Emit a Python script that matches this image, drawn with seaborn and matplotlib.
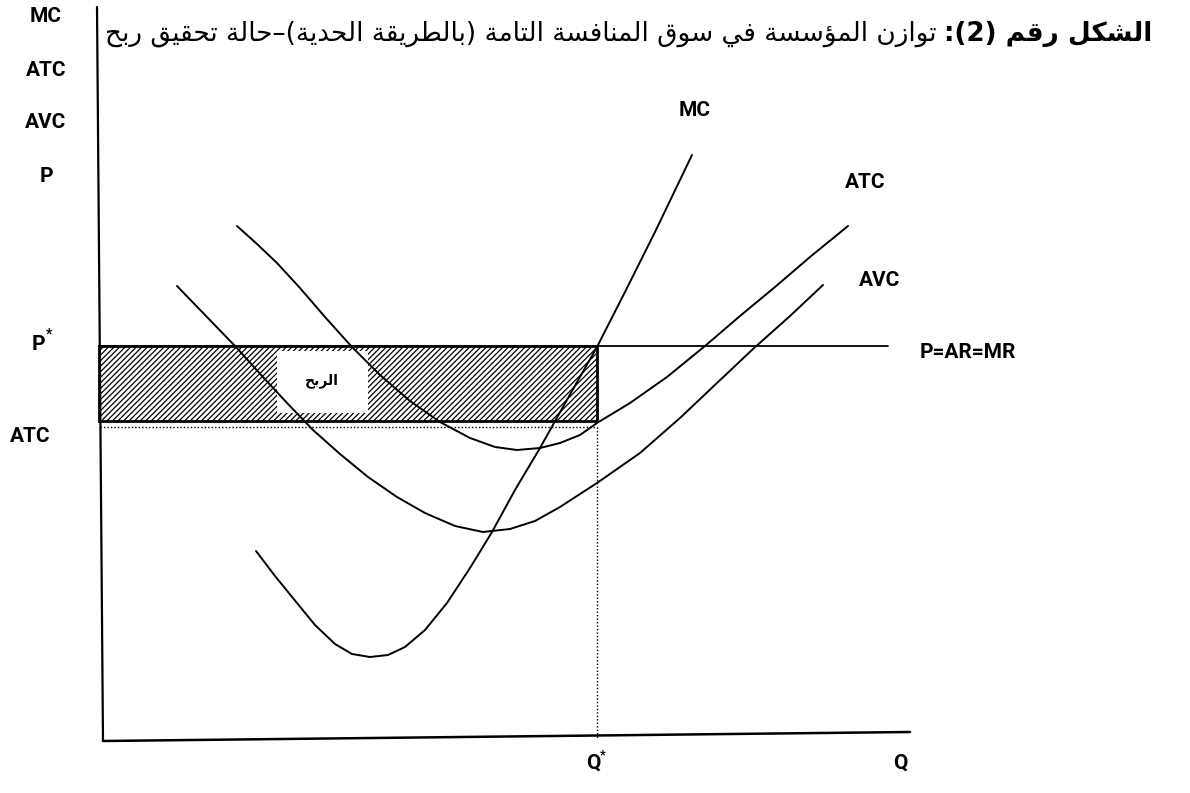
import matplotlib
matplotlib.use("Agg")
import matplotlib.pyplot as plt
from matplotlib.patches import Rectangle
import seaborn as sns

# ---------------- data (Q = quantity, C = cost / price, chart units) ----------------
mc_q = [153, 172, 194, 212, 232, 249, 267, 285, 302, 322, 344, 367, 389, 412, 437, 465, 494, 522, 552, 589]
mc_c = [189, 164, 137, 115, 96, 86, 83, 85, 93, 110, 137, 172, 208, 250, 292, 342, 393, 448, 508, 585]

atc_q = [134, 154, 174, 197, 222, 249, 277, 307, 337, 367, 392, 414, 437, 457, 477, 494, 527, 564, 602, 637, 672, 707, 745]
atc_c = [514, 496, 477, 452, 423, 393, 365, 339, 318, 302, 293, 290, 292, 297, 305, 317, 337, 363, 394, 424, 453, 483, 514]

avc_q = [74, 103, 133, 159, 185, 210, 237, 265, 294, 322, 352, 380, 407, 432, 457, 494, 537, 577, 614, 650, 687, 720]
avc_c = [454, 424, 393, 364, 336, 310, 286, 263, 243, 227, 214, 208, 211, 219, 233, 257, 287, 322, 357, 391, 424, 455]

p_star = 394          # market price P*
atc_at_qstar = 319    # ATC level at Q*
q_star = 494          # profit-maximising output
price_line_end = 785  # P=AR=MR line length

y_axis_labels = ["MC", "ATC", "AVC", "P"]
curve_labels = ["MC", "ATC", "AVC", "P=AR=MR"]
title_bold = "الشكل رقم (2):"
title_rest = "توازن المؤسسة في سوق المنافسة التامة (بالطريقة الحدية)–حالة تحقيق ربح"
profit_label = "الربح"

# ---------------- minimal Arabic shaping for matplotlib ----------------
FORMS = {
    'ا': ('\uFE8D', '\uFE8E', None, None),
    'ب': ('\uFE8F', '\uFE90', '\uFE91', '\uFE92'),
    'ة': ('\uFE93', '\uFE94', None, None),
    'ت': ('\uFE95', '\uFE96', '\uFE97', '\uFE98'),
    'ج': ('\uFE9D', '\uFE9E', '\uFE9F', '\uFEA0'),
    'ح': ('\uFEA1', '\uFEA2', '\uFEA3', '\uFEA4'),
    'د': ('\uFEA9', '\uFEAA', None, None),
    'ر': ('\uFEAD', '\uFEAE', None, None),
    'ز': ('\uFEAF', '\uFEB0', None, None),
    'س': ('\uFEB1', '\uFEB2', '\uFEB3', '\uFEB4'),
    'ش': ('\uFEB5', '\uFEB6', '\uFEB7', '\uFEB8'),
    'ط': ('\uFEC1', '\uFEC2', '\uFEC3', '\uFEC4'),
    'ف': ('\uFED1', '\uFED2', '\uFED3', '\uFED4'),
    'ق': ('\uFED5', '\uFED6', '\uFED7', '\uFED8'),
    'ك': ('\uFED9', '\uFEDA', '\uFEDB', '\uFEDC'),
    'ل': ('\uFEDD', '\uFEDE', '\uFEDF', '\uFEE0'),
    'م': ('\uFEE1', '\uFEE2', '\uFEE3', '\uFEE4'),
    'ن': ('\uFEE5', '\uFEE6', '\uFEE7', '\uFEE8'),
    'و': ('\uFEED', '\uFEEE', None, None),
    'ي': ('\uFEF1', '\uFEF2', '\uFEF3', '\uFEF4'),
    'ؤ': ('\uFE85', '\uFE86', None, None),
}
MIRROR = {'(': ')', ')': '('}


def shape_rtl(s):
    out = []
    for i, c in enumerate(s):
        if c not in FORMS:
            out.append(c)
            continue
        prev = s[i - 1] if i > 0 else ''
        nxt = s[i + 1] if i + 1 < len(s) else ''
        jp = prev in FORMS and FORMS[prev][2] is not None
        jn = FORMS[c][2] is not None and nxt in FORMS
        iso, fin, ini, med = FORMS[c]
        if jp and jn:
            out.append(med)
        elif jp:
            out.append(fin)
        elif jn:
            out.append(ini)
        else:
            out.append(iso)
    return ''.join(MIRROR.get(ch, ch) for ch in reversed(out))


# ---------------- figure ----------------
sns.set_theme(style="white")
plt.rcParams['font.family'] = ['Roboto', 'DejaVu Sans']
plt.rcParams['hatch.linewidth'] = 0.9
plt.rcParams['text.color'] = 'black'

fig = plt.figure(figsize=(11.9, 7.93), dpi=100)
ax = fig.add_axes([0, 0, 1, 1])
ax.set_xlim(-103, 1087)
ax.set_ylim(-53, 740)
ax.axis('off')

# profit rectangle (hatched)
ax.add_patch(Rectangle((-4, atc_at_qstar), q_star + 4, p_star - atc_at_qstar,
                       facecolor='white', edgecolor='black', hatch='//////',
                       linewidth=2.0, zorder=1))
ax.add_patch(Rectangle((174, 327), 91, 62, facecolor='white', edgecolor='none', zorder=2))
ax.text(219, 359, shape_rtl(profit_label), family=['DejaVu Sans'], fontweight='bold',
        fontsize=10, ha='center', va='center', color='black', zorder=5)

# axes lines
ax.plot([-6, 0], [733, -1], color='black', lw=1.6, zorder=3)
ax.plot([0, 807], [-1, 8], color='black', lw=1.8, zorder=3)

# price line and dotted guides
ax.plot([-4, price_line_end], [p_star, p_star], color='black', lw=1.3, zorder=3)
ax.plot([-3, q_star], [atc_at_qstar - 6, atc_at_qstar - 6], color='black', lw=1.0,
        linestyle=(0, (1, 1.5)), zorder=3)
ax.plot([q_star, q_star], [atc_at_qstar - 6, 2], color='black', lw=1.0,
        linestyle=(0, (1, 1.5)), zorder=3)

# cost curves
for q, c in ((mc_q, mc_c), (atc_q, atc_c), (avc_q, avc_c)):
    sns.lineplot(x=q, y=c, ax=ax, color='black', linewidth=1.4, sort=False,
                 estimator=None, zorder=4)

# labels
lab = dict(fontweight='bold', fontsize=15, ha='center', va='center', color='black')
for txt, c in zip(y_axis_labels, [724, 670, 618, 564]):
    ax.text(-57, c, txt, **lab)
ax.text(-65, 396, "P", **lab)
ax.text(-54, 405, "*", fontweight='bold', fontsize=10, ha='center', va='center')
ax.text(-73, 303, "ATC", **lab)
ax.text(592, 630, curve_labels[0], **lab)
ax.text(762, 557, curve_labels[1], **lab)
ax.text(777, 460, curve_labels[2], **lab)
ax.text(865, 388, curve_labels[3], **lab)
ax.text(490, -23, "Q", **lab)
ax.text(500, -15, "*", fontweight='bold', fontsize=9, ha='center', va='center')
ax.text(797, -23, "Q", **lab)

# title (bold part on the right, regular part to its left)
right_edge = 1049
tb = ax.text(right_edge, 706, shape_rtl(title_bold), family=['DejaVu Sans'],
             fontweight='bold', fontsize=18, ha='right', va='center', color='black')
tr = ax.text(0, 706, shape_rtl(title_rest), family=['DejaVu Sans'],
             fontsize=18, ha='right', va='center', color='black')
fig.canvas.draw()
r = fig.canvas.get_renderer()
gap = 7
wb = tb.get_window_extent(r).width
wr = tr.get_window_extent(r).width
scale = (1047 - gap) / (wb + wr)
tb.set_fontsize(18 * scale)
tr.set_fontsize(18 * scale)
fig.canvas.draw()
bb = tb.get_window_extent(r)
left_px = bb.x0 - gap
tr.set_x(ax.transData.inverted().transform((left_px, 0))[0])

fig.savefig("out.png", dpi=100, facecolor='white')
